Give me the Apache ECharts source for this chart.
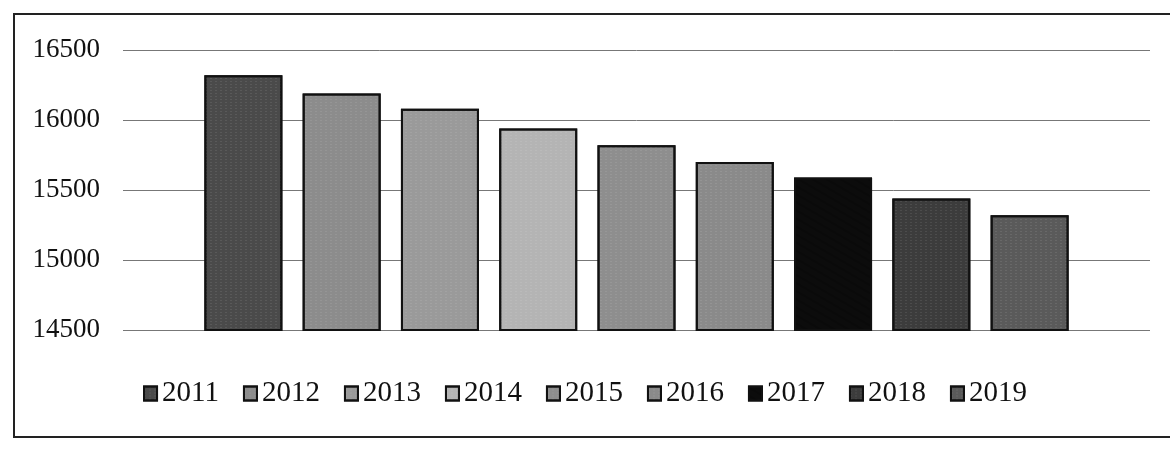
<!DOCTYPE html>
<html>
<head>
  <meta charset="utf-8">
  <script src="https://cdn.jsdelivr.net/npm/echarts@6/dist/echarts.min.js"></script>
</head>
<body style="margin: 0; background: #fff">
  <div id="container" style="width: 1170px; height: 453px"></div>
  <script type="text/javascript">
    // one bar per year
    var years = ['2011', '2012', '2013', '2014', '2015', '2016', '2017', '2018', '2019'];
    var values = [16320, 16190, 16080, 15940, 15820, 15700, 15590, 15440, 15320];
    var yTicks = [14500, 15000, 15500, 16000, 16500];
    var shades = ['#4a4a4a', '#8c8c8c', '#9a9a9a', '#b4b4b4', '#8e8e8e', '#8a8a8a', '#0c0c0c', '#3c3c3c', '#5a5a5a'];

    var myChart = echarts.init(document.getElementById('container'), null, { renderer: 'canvas' });
    var serif = '"Liberation Serif", "DejaVu Serif", serif';

    var series = years.map(function (y, i) {
      return {
        name: y,
        type: 'bar',
        barWidth: 78,
        barGap: '26%',
        data: [values[i]],
        itemStyle: {
          color: shades[i],
          borderColor: '#111',
          borderWidth: 2,
          decal: i === 6 ? null : {
            symbol: 'rect',
            symbolSize: 0.5,
            dashArrayX: [2, 3],
            dashArrayY: [1, 2],
            rotation: 0,
            color: 'rgba(255,255,255,0.35)'
          }
        }
      };
    });

    var option = {
      animation: false,
      aria: { enabled: true, decal: { show: true } },
      grid: { left: 123, right: 20, top: 50, bottom: 123 },
      legend: {
        data: years,
        bottom: 40,
        left: 'center',
        itemWidth: 13,
        itemHeight: 14,
        itemGap: 24,
        icon: 'rect',
        textStyle: { fontFamily: serif, fontSize: 29, color: '#111', padding: [0, 0, 0, 0] }
      },
      xAxis: {
        type: 'category',
        data: [''],
        axisLine: { show: false },
        axisTick: { show: false },
        axisLabel: { show: false }
      },
      yAxis: {
        type: 'value',
        min: yTicks[0],
        max: yTicks[yTicks.length - 1],
        interval: 500,
        axisLabel: {
          fontFamily: serif,
          fontSize: 27,
          color: '#111',
          margin: 23,
          formatter: function (v) { return String(v); }
        },
        splitLine: { lineStyle: { color: '#777', width: 1 } }
      },
      graphic: [{
        type: 'rect',
        shape: { x: 14, y: 14, width: 1180, height: 423 },
        style: { fill: 'none', stroke: '#222', lineWidth: 2 },
        silent: true
      }],
      series: series
    };

    myChart.setOption(option);
    window.addEventListener('resize', myChart.resize);
  </script>
</body>
</html>
